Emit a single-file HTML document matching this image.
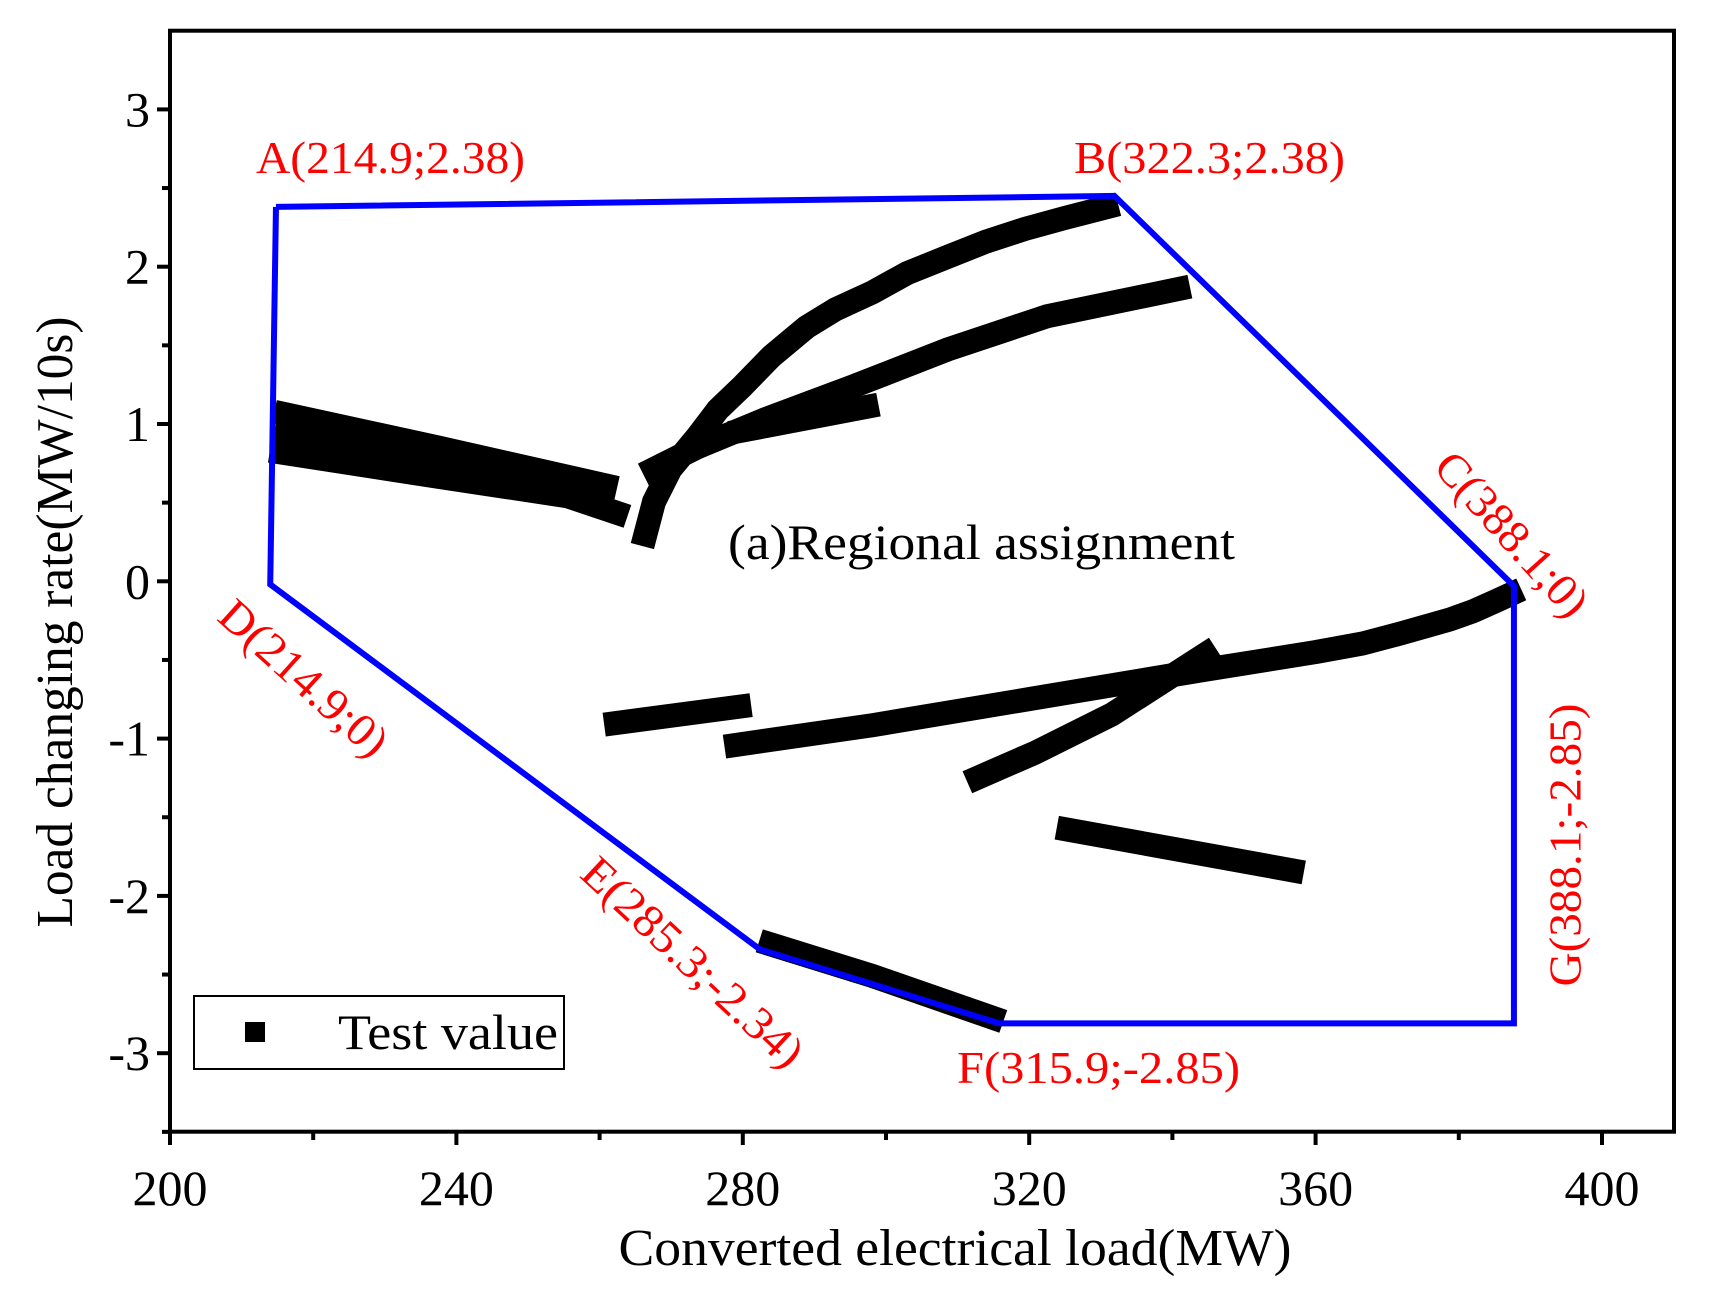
<!DOCTYPE html>
<html><head><meta charset="utf-8"><style>
html,body{margin:0;padding:0;background:#fff}
svg{display:block}
text{font-family:"Liberation Serif",serif}
</style></head><body>
<svg id="chart" width="1710" height="1301" viewBox="0 0 1710 1301" xmlns="http://www.w3.org/2000/svg">
<g id="series"></g>
<g id="poly"></g>
<g id="axes"></g>
<g id="labels"></g>
</svg>
<script>
const xTicks=[200,240,280,320,360,400];
const xMinor=[220,260,300,340,380];
const yTicks=[-3,-2,-1,0,1,2,3];
const yMinor=[-3.5,-2.5,-1.5,-0.5,0.5,1.5,2.5];
const polyX=[214.8,331.9,387.7,387.7,315.8,282.4,214.0,214.8];
const polyY=[2.38,2.45,-0.03,-2.81,-2.81,-2.34,-0.02,2.38];
const s1aX=[216.2,237.2,260.8]; const s1aY=[1.061,0.853,0.610];
const s1bX=[216.2,237.2,258.5]; const s1bY=[0.922,0.749,0.541];
const s1cX=[215.6,237.2,255.5,262.3]; const s1cY=[0.818,0.666,0.541,0.437];
const s2X=[266.4,267.6,269.9,273.7,276.5,279.8,284,288.9,293,298.1,303,308.8,314,319.4,325,330.8];
const s2Y=[0.298,0.506,0.714,0.922,1.09,1.234,1.43,1.616,1.73,1.837,1.96,2.066,2.16,2.240,2.31,2.378];
const s3X=[267.6,273.7,282.9,295.1,308.8,322.5,340.8];
const s3Y=[0.714,0.853,1.026,1.234,1.477,1.685,1.858];
const s4X=[279.8,297.3]; const s4Y=[0.957,1.109];
const s5X=[279.1,298.1,320.9,343.8,360,366.6,372,378.8,382,384.9,387.2];
const s5Y=[-1.040,-0.915,-0.742,-0.568,-0.45,-0.395,-0.33,-0.242,-0.19,-0.131,-0.083];
const s6X=[312.9,320.9,331.6,344.6]; const s6Y=[-1.247,-1.088,-0.845,-0.464];
const s7X=[262.3,279.5]; const s7Y=[-0.901,-0.797];
const s8X=[325.5,356.7]; const s8Y=[-1.580,-1.837];
const s9X=[283.9,298.1,314.8]; const s9Y=[-2.308,-2.509,-2.773];

const X=v=>170+(v-200)*7.16;
const Y=v=>581.3-v*157.3;
const NS="http://www.w3.org/2000/svg";
function mk(tag,parent,attrs){const e=document.createElementNS(NS,tag);for(const k in attrs)e.setAttribute(k,attrs[k]);parent.appendChild(e);return e;}
const series=document.getElementById('series');
[[s1aX,s1aY],[s1bX,s1bY],[s1cX,s1cY],[s2X,s2Y],[s3X,s3Y],[s4X,s4Y],[s5X,s5Y],[s6X,s6Y],[s7X,s7Y],[s8X,s8Y],[s9X,s9Y]].forEach((s,i)=>{
  const pts=s[0].map((x,j)=>X(x)+','+Y(s[1][j])).join(' ');
  const pl=mk('polyline',series,{points:pts,fill:'none',stroke:'#000','stroke-width':24,'stroke-linecap':'square','stroke-linejoin':'round'});
  
  
});
const poly=document.getElementById('poly');
const pp=mk('polyline',poly,{points:polyX.map((x,j)=>X(x)+','+Y(polyY[j])).join(' '),fill:'none',stroke:'#0000ff','stroke-width':6,'stroke-linejoin':'miter'});



const axes=document.getElementById('axes');
const frame=mk('rect',axes,{x:170,y:30.7,width:1504,height:1101,fill:'none',stroke:'#000','stroke-width':4});


xTicks.forEach(v=>{
  const t=mk('line',axes,{x1:X(v),x2:X(v),y1:1131.7,y2:1145,stroke:'#000','stroke-width':4});
  
  
  const l=mk('text',axes,{x:X(v),y:1205,'font-size':50,'text-anchor':'middle'});l.textContent=v;
  
  
});
xMinor.forEach(v=>{const t=mk('line',axes,{x1:X(v),x2:X(v),y1:1131.7,y2:1140,stroke:'#000','stroke-width':4});
  
  });
yTicks.forEach(v=>{
  const t=mk('line',axes,{x1:157,x2:170,y1:Y(v),y2:Y(v),stroke:'#000','stroke-width':4});
  
  
  const l=mk('text',axes,{x:150,y:Y(v)+17,'font-size':50,'text-anchor':'end'});l.textContent=v;
  
  
});
yMinor.forEach(v=>{const t=mk('line',axes,{x1:162,x2:170,y1:Y(v),y2:Y(v),stroke:'#000','stroke-width':4});
  
  });
</script>
<script>
(function(){
const NS="http://www.w3.org/2000/svg";
const svg=document.getElementById('chart');
function tx(str,attrs,name){const e=document.createElementNS(NS,'text');for(const k in attrs)e.setAttribute(k,attrs[k]);
  if(attrs.textLength)e.setAttribute('lengthAdjust','spacingAndGlyphs');
  e.textContent=str;
  
  
  svg.appendChild(e);return e;}
tx('Converted electrical load(MW)',{x:955,y:1265,'font-size':52,'text-anchor':'middle',textLength:673},'x-axis-title');
tx('Load changing rate(MW/10s)',{x:0,y:0,'font-size':52,'text-anchor':'middle',textLength:611,transform:'translate(72,622) rotate(-90)'},'y-axis-title');
tx('(a)Regional assignment',{x:728,y:559,'font-size':50,textLength:507},'chart-annotation');
tx('A(214.9;2.38)',{x:256,y:173,'font-size':46,fill:'#ff0000',textLength:269},'label-a');
tx('B(322.3;2.38)',{x:1074,y:173,'font-size':46,fill:'#ff0000',textLength:271},'label-b');
tx('F(315.9;-2.85)',{x:957,y:1083,'font-size':46,fill:'#ff0000',textLength:283},'label-f');
tx('C(388.1;0)',{x:0,y:0,'font-size':46,fill:'#ff0000','text-anchor':'middle','dominant-baseline':'central',textLength:205,transform:'translate(1512,534) rotate(48)'},'label-c');
tx('D(214.9;0)',{x:0,y:0,'font-size':46,fill:'#ff0000','text-anchor':'middle','dominant-baseline':'central',textLength:210,transform:'translate(304,678) rotate(42)'},'label-d');
tx('E(285.3;-2.34)',{x:0,y:0,'font-size':46,fill:'#ff0000','text-anchor':'middle','dominant-baseline':'central',textLength:285,transform:'translate(693,962) rotate(43)'},'label-e');
tx('G(388.1;-2.85)',{x:0,y:0,'font-size':46,fill:'#ff0000','text-anchor':'middle','dominant-baseline':'central',textLength:283,transform:'translate(1565,845) rotate(-90)'},'label-g');
const lg=document.createElementNS(NS,'g');


svg.appendChild(lg);
lg.innerHTML='<rect x="194" y="996" width="370" height="73" fill="#fff" stroke="#000" stroke-width="2"/><rect x="245" y="1022" width="20" height="20" fill="#000"/><text x="338" y="1049" font-size="50" font-family="Liberation Serif, serif" textLength="220" lengthAdjust="spacingAndGlyphs">Test value</text>';
})();
</script>
</body></html>
